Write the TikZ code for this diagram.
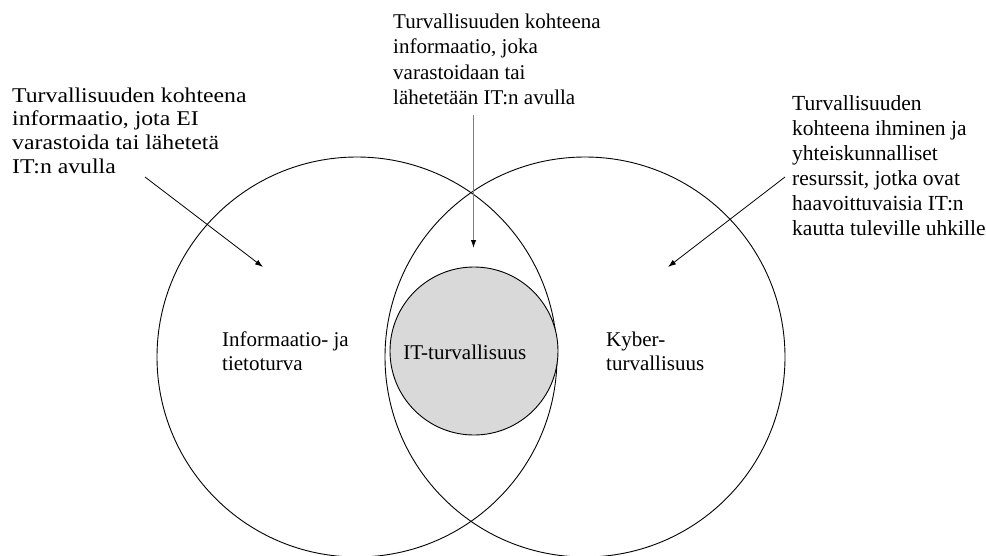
\documentclass[tikz,border=0pt]{standalone}
\usepackage{fontspec}
\setmainfont{Liberation Serif}
\newfontfamily\widefont{Liberation Serif}[FakeStretch=1.13]
\usetikzlibrary{arrows.meta}
\definecolor{itgray}{HTML}{D9D9D9}
\definecolor{linegray}{HTML}{808080}
\begin{document}
\begin{tikzpicture}[x=1pt,y=-1pt,
  ring/.style={circle,draw=black,line width=0.9pt,minimum size=400pt,inner sep=0pt},
  lbl/.style={inner sep=0pt,align=left,anchor=north west,font=\fontsize{21}{24}\selectfont},
  pointer/.style={line width=0.8pt,-{Latex[length=8pt,width=5.5pt,color=black]}}]
\useasboundingbox (0,0) rectangle (986,555);
\fill[white] (0,0) rectangle (986,555);
\clip (0,0) rectangle (986,555);
% circles
\node[ring] (info) at (357,357) {};
\node[ring] (kyber) at (585,357) {};
\node[circle,draw=black,line width=0.9pt,fill=itgray,minimum size=168pt,inner sep=0pt] (it) at (474,351) {};
% circle labels
\node[lbl] (infolbl) at (222,331.5) {Informaatio- ja\\tietoturva};
\node[lbl] (kyberlbl) at (606,331.5) {Kyber-\\turvallisuus};
\node[inner sep=0pt,anchor=base,font=\fontsize{21}{24}\selectfont] (itlbl) at (464.7,359) {IT-turvallisuus};
% notes
\node[inner sep=0pt,align=left,anchor=north west,font=\widefont\fontsize{21}{23.7}\selectfont] (leftnote) at (12,87.5)
  {Turvallisuuden kohteena\\informaatio, jota EI\\varastoida tai lähetetä\\IT:n avulla};
\node[inner sep=0pt,align=left,anchor=north west,font=\fontsize{21}{25.5}\selectfont] (topnote) at (393,13.5)
  {Turvallisuuden kohteena\\informaatio, joka\\varastoidaan tai\\lähetetään IT:n avulla};
\node[inner sep=0pt,align=left,anchor=north west,font=\fontsize{21.5}{25}\selectfont] (rightnote) at (792,95)
  {Turvallisuuden\\kohteena ihminen ja\\yhteiskunnalliset\\resurssit, jotka ovat\\haavoittuvaisia IT:n\\kautta tuleville uhkille};
% arrows
\coordinate (lstart) at (145,177);
\coordinate (lend) at (263,267);
\coordinate (tstart) at (473.5,115);
\coordinate (tend) at (473.5,248);
\coordinate (rstart) at (785,177);
\coordinate (rend) at (668,267);
\draw[pointer] (lstart) -- (lend);
\draw[pointer,draw=linegray,line width=1.2pt] (tstart) -- (tend);
\draw[pointer] (rstart) -- (rend);
\end{tikzpicture}
\end{document}
